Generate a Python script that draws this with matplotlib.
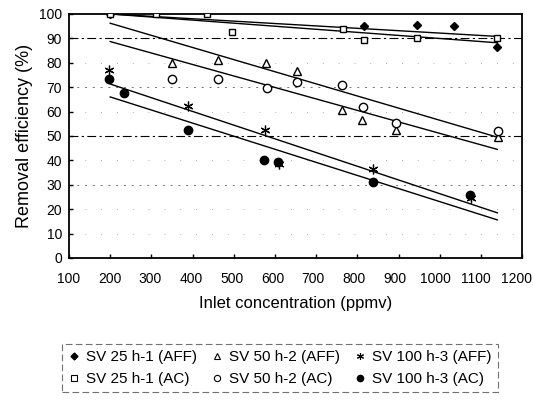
import matplotlib
matplotlib.use("Agg")
import matplotlib.pyplot as plt
import matplotlib.transforms as mtransforms
from matplotlib.lines import Line2D

plt.rcParams['font.family'] = ['Liberation Sans', 'DejaVu Sans']

# ---- data ----
aff25_x = [200, 815, 945, 1035, 1140]
aff25_y = [100, 95, 95.5, 95, 86.5]
ac25_x = [200, 310, 435, 495, 765, 815, 945, 1140]
ac25_y = [100, 100, 100, 92.8, 94, 89.5, 90, 90.3]
aff50_x = [350, 462, 578, 653, 763, 811, 894, 1141]
aff50_y = [80, 81, 80, 76.5, 60.5, 56.5, 52.5, 49.5]
ac50_x = [350, 462, 580, 653, 763, 813, 894, 1141]
ac50_y = [73.3, 73.3, 69.7, 72.3, 71, 62, 55.5, 52]
aff100_x = [198, 390, 576, 610, 838, 1075]
aff100_y = [77, 62.3, 52.5, 38.5, 36.3, 24.5]
ac100_x = [198, 234, 390, 573, 607, 838, 1073]
ac100_y = [73.2, 67.5, 52.3, 40, 39.3, 31, 25.8]

# fitted trend lines (end points)
fit_x = [200, 1140]
fit25_aff = [100, 88.2]
fit25_ac = [100, 90.8]
fit50_aff = [96.2, 49.5]
fit50_ac = [88.7, 44.5]
fit100_aff = [71.3, 18.5]
fit100_ac = [66.0, 15.6]

x_ticks = list(range(100, 1201, 100))
y_ticks = list(range(0, 101, 10))

labels_row1 = ['SV 25 h-1 (AFF)', 'SV 50 h-2 (AFF)', 'SV 100 h-3 (AFF)']
labels_row2 = ['SV 25 h-1 (AC)', 'SV 50 h-2 (AC)', 'SV 100 h-3 (AC)']

fig = plt.figure(figsize=(5.33, 4.05), dpi=100)
ax = fig.add_axes([0.1295, 0.363, 0.85, 0.6025])

# grid-like reference lines (scanned look)
for yv in [90, 50]:
    ax.axhline(yv, color='black', lw=0.8, ls=(0, (8, 3, 2, 3)), zorder=1)
for yv in [70, 30]:
    ax.axhline(yv, color='0.45', lw=0.7, ls=(0, (2, 6)), zorder=1)
for yv in [80, 60, 40, 20, 10]:
    ax.axhline(yv, color='0.6', lw=0.6, ls=(0, (1, 18)), zorder=1)

for fy in [fit25_aff, fit25_ac, fit50_aff, fit50_ac, fit100_aff, fit100_ac]:
    ax.plot(fit_x, fy, color='black', lw=1.0, zorder=2)

ax.plot(aff25_x, aff25_y, ls='none', marker='D', ms=4.5, color='black', zorder=3)
ax.plot(ac25_x, ac25_y, ls='none', marker='s', ms=5, mfc='white', mec='black', mew=1.0, zorder=3)
ax.plot(aff50_x, aff50_y, ls='none', marker='^', ms=6, mfc='white', mec='black', mew=1.0, zorder=3)
ax.plot(ac50_x, ac50_y, ls='none', marker='o', ms=6, mfc='white', mec='black', mew=1.0, zorder=3)
ax.plot(aff100_x, aff100_y, ls='none', marker=(6, 2, 0), ms=7, color='black', mew=0.9, zorder=3)
ax.plot(ac100_x, ac100_y, ls='none', marker='o', ms=6, color='black', zorder=3)

ax.set_xlim(100, 1200)
ax.set_ylim(0, 100)
ax.set_xticks(x_ticks)
ax.set_yticks(y_ticks)
ax.tick_params(length=3, width=1, direction='in', labelsize=10)
ax.tick_params(axis='x', pad=10)
ax.tick_params(axis='y', pad=5)
# tick labels of the reference are slightly compressed toward the left
xl = ax.get_xticklabels()
n = len(xl)
for i, lbl in enumerate(xl):
    off = -5.5 * i / (n - 1)
    lbl.set_transform(lbl.get_transform() + mtransforms.ScaledTranslation(off / 100, 0, fig.dpi_scale_trans))
for s in ax.spines.values():
    s.set_linewidth(1.3)
ax.set_xlabel('Inlet concentration (ppmv)', fontsize=12, labelpad=7)
ax.set_ylabel('Removal efficiency (%)', fontsize=13, labelpad=4)

# legend
h = [
    Line2D([], [], ls='none', marker='D', ms=3.5, color='black'),
    Line2D([], [], ls='none', marker='s', ms=4, mfc='white', mec='black', mew=0.8),
    Line2D([], [], ls='none', marker='^', ms=4.5, mfc='white', mec='black', mew=0.8),
    Line2D([], [], ls='none', marker='o', ms=4.5, mfc='white', mec='black', mew=0.8),
    Line2D([], [], ls='none', marker=(6, 2, 0), ms=5, color='black', mew=0.8),
    Line2D([], [], ls='none', marker='o', ms=4.5, color='black'),
]
lab = [labels_row1[0], labels_row2[0], labels_row1[1], labels_row2[1], labels_row1[2], labels_row2[2]]
leg = fig.legend(h, lab, ncol=3, loc='center', bbox_to_anchor=(0.525, 0.091),
                 fontsize=11, frameon=True, fancybox=False, handlelength=0.8,
                 handletextpad=0.4, columnspacing=0.9, labelspacing=0.55,
                 borderpad=0.4)
fr = leg.get_frame()
fr.set_linestyle((0, (6, 3)))
fr.set_edgecolor('0.3')
fr.set_linewidth(0.8)

fig.savefig('out.png', dpi=100)
